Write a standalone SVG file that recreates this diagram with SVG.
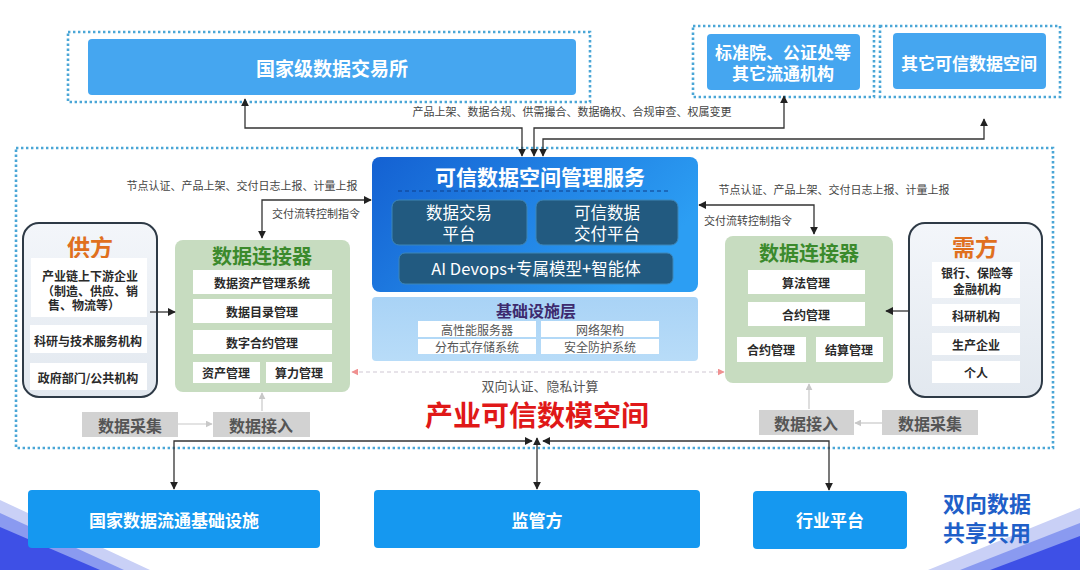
<svg xmlns="http://www.w3.org/2000/svg" width="1080" height="570" viewBox="0 0 1080 570">
<defs>
<style>
text{font-family:"Noto Sans CJK SC","Noto Sans",sans-serif;text-anchor:middle;dominant-baseline:central}
.dot{fill:none;stroke:#4aa6d6;stroke-width:2.6;stroke-dasharray:2.4 2.6}
.top{fill:#45a6f0}
.bot{fill:#1598f0}
.wt{fill:#fff;font-weight:bold}
.lbl{fill:#444;font-size:11px}
.cell{fill:#fff}
.ct{fill:#2a2a2a;font-size:12px;font-weight:bold}
.dk{fill:#225a80;stroke:#3d86b8;stroke-width:1}
.dt{fill:#fff;font-size:16.5px}
.inf{fill:#fff}
.it{fill:#555;font-size:12px}
.side{fill:url(#sideG);stroke:#2e3a46;stroke-width:2}
.conn{fill:#c7dcc0}
.ctitle{fill:#3b8a2c;font-size:20px;font-weight:bold}
.gray{fill:#d2d2d2}
.gt{fill:#555;font-size:16px;font-weight:bold}
.ln{fill:none;stroke:#333;stroke-width:1.3}
.lg{fill:none;stroke:#c8c8c8;stroke-width:1.2}
</style>
<linearGradient id="mainG" x1="0" y1="0" x2="1" y2="0.4">
<stop offset="0" stop-color="#1461d2"/><stop offset="1" stop-color="#2c9ef3"/>
</linearGradient>
<linearGradient id="sideG" x1="0" y1="0" x2="0" y2="1">
<stop offset="0" stop-color="#f3f6fa"/><stop offset="1" stop-color="#e2e8ef"/>
</linearGradient>
<linearGradient id="infG" x1="0" y1="0" x2="0" y2="1">
<stop offset="0" stop-color="#a9d3f6"/><stop offset="1" stop-color="#b8dcf8"/>
</linearGradient>
<marker id="ar" viewBox="0 0 10 10" refX="9" refY="5" markerWidth="8" markerHeight="8" markerUnits="userSpaceOnUse" orient="auto-start-reverse"><path d="M0,0 L10,5 L0,10 z" fill="#222"/></marker>
<marker id="arg" viewBox="0 0 10 10" refX="9" refY="5" markerWidth="7" markerHeight="7" markerUnits="userSpaceOnUse" orient="auto-start-reverse"><path d="M0,0 L10,5 L0,10 z" fill="#c8c8c8"/></marker>
<marker id="arp" viewBox="0 0 10 10" refX="9" refY="5" markerWidth="7" markerHeight="7" markerUnits="userSpaceOnUse" orient="auto-start-reverse"><path d="M0,0 L10,5 L0,10 z" fill="#f09090"/></marker>
</defs>
<rect width="1080" height="570" fill="#fff"/>

<g id="deco">
<polygon points="0,500 150,570 0,570" fill="#c9d0f6"/>
<polygon points="0,513 124,570 0,570" fill="#8a9af0"/>
<polygon points="0,527 100,570 0,570" fill="#3e50e6"/>
<polygon points="928,570 1080,508 1080,570" fill="#c9d0f6"/>
<polygon points="960,570 1080,523 1080,570" fill="#8a9af0"/>
<polygon points="990,570 1080,536 1080,570" fill="#3e50e6"/>
</g>

<rect class="dot" x="68" y="32" width="522" height="70"/>
<rect class="dot" x="693" y="26" width="181" height="71"/>
<rect class="dot" x="880" y="26" width="180" height="71"/>
<rect class="dot" x="16" y="148" width="1037" height="300"/>

<g id="n-exchange">
<rect class="top" x="88" y="39" width="488" height="56" rx="4"/>
<text class="wt" x="332" y="67" font-size="19">国家级数据交易所</text>
</g>
<g id="n-standard">
<rect class="top" x="707" y="34" width="153" height="56" rx="4"/>
<text class="wt" font-size="17"><tspan x="783" y="51">标准院、公证处等</tspan><tspan x="783" y="72">其它流通机构</tspan></text>
</g>
<g id="n-other">
<rect class="top" x="893" y="33" width="153" height="56" rx="4"/>
<text class="wt" x="969" y="62" font-size="17">其它可信数据空间</text>
</g>

<g id="n-mgmt">
<rect x="372" y="157" width="326" height="135" rx="8" fill="url(#mainG)"/>
<text class="wt" x="540" y="176" font-size="21">可信数据空间管理服务</text>
<line x1="398" y1="191" x2="670" y2="191" stroke="#0e3f8a" stroke-width="1.2" stroke-dasharray="4 3"/>
<rect class="dk" x="392" y="200" width="135" height="45" rx="7"/>
<text class="dt"><tspan x="459" y="212">数据交易</tspan><tspan x="459" y="233">平台</tspan></text>
<rect class="dk" x="536" y="200" width="142" height="45" rx="7"/>
<text class="dt"><tspan x="607" y="212">可信数据</tspan><tspan x="607" y="233">交付平台</tspan></text>
<rect class="dk" x="399" y="253" width="274" height="31" rx="6"/>
<text class="dt" x="536" y="268" font-size="17">AI Devops+专属模型+智能体</text>
</g>

<g id="n-infra">
<rect x="372" y="297" width="326" height="64" rx="4" fill="url(#infG)"/>
<text x="536" y="310" font-size="16" font-weight="bold" fill="#3d2a6e">基础设施层</text>
<rect class="inf" x="418" y="321" width="118" height="16"/>
<rect class="inf" x="541" y="321" width="118" height="16"/>
<rect class="inf" x="418" y="339" width="118" height="15"/>
<rect class="inf" x="541" y="339" width="118" height="15"/>
<text class="it" x="477" y="329">高性能服务器</text>
<text class="it" x="600" y="329">网络架构</text>
<text class="it" x="477" y="346.5">分布式存储系统</text>
<text class="it" x="600" y="346.5">安全防护系统</text>
</g>

<g id="n-supply">
<rect class="side" x="23" y="223" width="134" height="174" rx="16"/>
<text x="90" y="246" font-size="23" font-weight="bold" fill="#e0701e">供方</text>
<rect class="cell" x="31" y="258" width="116" height="59"/>
<text class="ct"><tspan x="90" y="275">产业链上下游企业</tspan><tspan x="90" y="290">（制造、供应、销</tspan><tspan x="84" y="304">售、物流等）</tspan></text>
<rect class="cell" x="30" y="325" width="117" height="28"/>
<text class="ct" x="88" y="340" font-weight="500">科研与技术服务机构</text>
<rect class="cell" x="30" y="363" width="117" height="27"/>
<text class="ct" x="88" y="377" font-weight="500">政府部门/公共机构</text>
</g>

<g id="n-conn-left">
<rect class="conn" x="175" y="240" width="175" height="152" rx="8"/>
<text class="ctitle" x="262" y="255">数据连接器</text>
<rect class="cell" x="193" y="270" width="139" height="24"/>
<text class="ct" x="262" y="282">数据资产管理系统</text>
<rect class="cell" x="193" y="299" width="139" height="24"/>
<text class="ct" x="262" y="311">数据目录管理</text>
<rect class="cell" x="193" y="330" width="139" height="24"/>
<text class="ct" x="262" y="342">数字合约管理</text>
<rect class="cell" x="193" y="362" width="67" height="21"/>
<text class="ct" x="226" y="372.5">资产管理</text>
<rect class="cell" x="266" y="362" width="66" height="21"/>
<text class="ct" x="299" y="372.5">算力管理</text>
</g>

<g id="n-conn-right">
<rect class="conn" x="725" y="236" width="168" height="147" rx="8"/>
<text class="ctitle" x="809" y="252">数据连接器</text>
<rect class="cell" x="748" y="270" width="117" height="24"/>
<text class="ct" x="806" y="282">算法管理</text>
<rect class="cell" x="748" y="302" width="117" height="24"/>
<text class="ct" x="806" y="314">合约管理</text>
<rect class="cell" x="737" y="337" width="69" height="25"/>
<text class="ct" x="771" y="349.5">合约管理</text>
<rect class="cell" x="816" y="337" width="67" height="25"/>
<text class="ct" x="849" y="349.5">结算管理</text>
</g>

<g id="n-demand">
<rect class="side" x="909" y="223" width="133" height="174" rx="16"/>
<text x="975" y="246" font-size="23" font-weight="bold" fill="#e0701e">需方</text>
<rect class="cell" x="932" y="262" width="88" height="36"/>
<text class="ct"><tspan x="977" y="272">银行、保险等</tspan><tspan x="977" y="288">金融机构</tspan></text>
<rect class="cell" x="932" y="304" width="88" height="22"/>
<text class="ct" x="976" y="315">科研机构</text>
<rect class="cell" x="932" y="333" width="88" height="22"/>
<text class="ct" x="976" y="344">生产企业</text>
<rect class="cell" x="932" y="361" width="88" height="22"/>
<text class="ct" x="976" y="372">个人</text>
</g>

<g id="n-collect-left"><rect class="gray" x="82" y="412" width="96" height="25"/><text class="gt" x="130" y="424.5">数据采集</text></g>
<g id="n-access-left"><rect class="gray" x="213" y="412" width="97" height="25"/><text class="gt" x="261" y="424.5">数据接入</text></g>
<g id="n-access-right"><rect class="gray" x="759" y="410" width="95" height="25"/><text class="gt" x="806" y="422.5">数据接入</text></g>
<g id="n-collect-right"><rect class="gray" x="882" y="410" width="96" height="25"/><text class="gt" x="930" y="422.5">数据采集</text></g>

<g id="n-space-title">
<text x="540" y="385" font-size="13" fill="#555">双向认证、隐私计算</text>
<text x="537" y="414" font-size="28" font-weight="bold" fill="#e01818">产业可信数模空间</text>
</g>

<g id="n-infra-national"><rect class="bot" x="28" y="490" width="292" height="58" rx="4"/><text class="wt" x="174" y="519" font-size="17">国家数据流通基础设施</text></g>
<g id="n-regulator"><rect class="bot" x="374" y="490" width="326" height="58" rx="4"/><text class="wt" x="537" y="519" font-size="17">监管方</text></g>
<g id="n-industry"><rect class="bot" x="753" y="491" width="154" height="58" rx="4"/><text class="wt" x="830" y="519" font-size="17">行业平台</text></g>
<g id="n-slogan">
<text font-size="22" font-weight="bold" fill="#1f5fc8"><tspan x="987" y="502">双向数据</tspan><tspan x="987" y="531">共享共用</tspan></text>
</g>

<g id="connectors">
<path class="ln" d="M522,156 V128 H245 V99" marker-start="url(#ar)" marker-end="url(#ar)"/>
<path class="ln" d="M534,156 V128 H784 V96" marker-start="url(#ar)" marker-end="url(#ar)"/>
<path class="ln" d="M543,156 V139 H984 V119" marker-start="url(#ar)" marker-end="url(#ar)"/>
<text class="lbl" x="572" y="111" font-size="12.2">产品上架、数据合规、供需撮合、数据确权、合规审查、权属变更</text>

<path class="ln" d="M371,200 H262 V238" marker-start="url(#ar)" marker-end="url(#ar)"/>
<text class="lbl" x="242" y="185">节点认证、产品上架、交付日志上报、计量上报</text>
<text class="lbl" x="316" y="213">交付流转控制指令</text>

<path class="ln" d="M699,205 H814 V234" marker-start="url(#ar)" marker-end="url(#ar)"/>
<text class="lbl" x="834" y="189">节点认证、产品上架、交付日志上报、计量上报</text>
<text class="lbl" x="748" y="220">交付流转控制指令</text>

<path class="ln" d="M150,312 H175" stroke-width="1.6" marker-end="url(#ar)"/>
<path class="ln" d="M909,311 H886" stroke-width="1.6" marker-end="url(#ar)"/>

<path class="lg" d="M178,424 H212" marker-end="url(#arg)"/>
<path class="lg" d="M262,411 V393" marker-end="url(#arg)"/>
<path class="lg" d="M882,423 H855" marker-end="url(#arg)"/>
<path class="lg" d="M809,409 V384" marker-end="url(#arg)"/>

<path d="M352,372 H724" fill="none" stroke="#cfc8d4" stroke-width="1.2" stroke-dasharray="4 3" marker-start="url(#arp)" marker-end="url(#arp)"/>

<path class="ln" d="M174,489 V441 H532" marker-start="url(#ar)" marker-end="url(#ar)"/>
<path class="ln" d="M537,438 V489" stroke="#666" stroke-width="1.6" marker-start="url(#ar)" marker-end="url(#ar)"/>
<path class="ln" d="M829,490 V441 H543" marker-start="url(#ar)" marker-end="url(#ar)"/>
</g>
</svg>
